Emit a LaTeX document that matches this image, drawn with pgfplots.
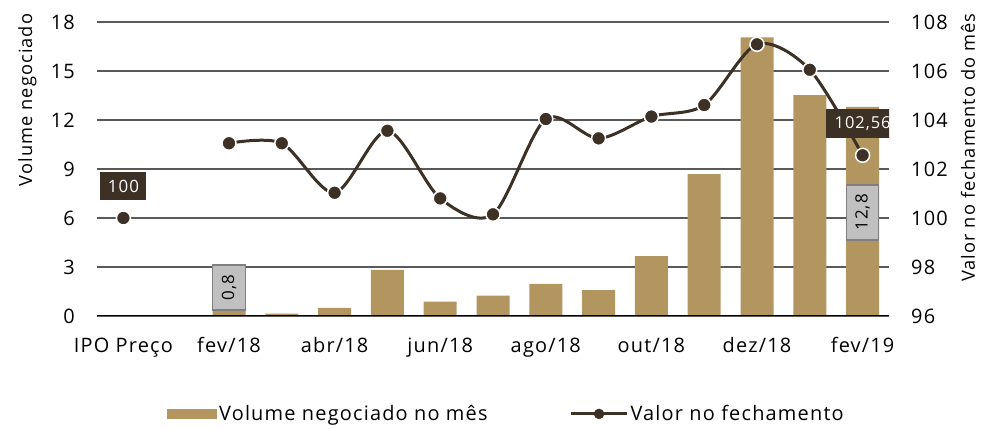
\documentclass[border=0pt]{standalone}
\usepackage{pgfplots}
\pgfplotsset{compat=1.18}
\usepackage{fontspec}
\setmainfont{Open Sans}[LetterSpace=6]
\definecolor{barcol}{HTML}{B39560}
\definecolor{linecol}{HTML}{3D3024}
\definecolor{gridcol}{HTML}{595959}
\definecolor{boxfill}{HTML}{C0C0C0}
\definecolor{boxdraw}{HTML}{7F7F7F}
\begin{document}
\begin{tikzpicture}
\path[use as bounding box] (0,0) rectangle (982bp,429bp);
\begin{axis}[
  at={(97bp,113bp)}, anchor=south west,
  scale only axis, width=792bp, height=294bp,
  xmin=-0.5, xmax=14.5, ymin=0, ymax=18,
  ytick={0,3,...,18},
  xtick={0,2,...,14},
  xticklabels={IPO Preço, fev/18, abr/18, jun/18, ago/18, out/18, dez/18, fev/19},
  axis line style={draw=none},
  ymajorgrids, major grid style={gridcol, line width=1.3bp},
  major tick length=0pt,
  tick label style={font=\fontsize{20}{24}\selectfont},
  /pgf/number format/assume math mode=true,
  yticklabel style={anchor=east, inner sep=0pt, xshift=-22bp},
  xticklabel style={anchor=base, inner sep=0pt, yshift=-36bp},
  ylabel={Volume negociado},
  ylabel style={font=\fontsize{18.3}{22}\selectfont, at={(axis description cs:-0.088,1.04)}, anchor=east},
  ybar, bar width=33bp,
  legend style={at={(0.517,-0.333)}, anchor=center, draw=none, fill=none,
    legend columns=2, font=\fontsize{20}{24}\selectfont,
    /tikz/every even column/.append style={column sep=80bp}},
  legend cell align=left,
]
\addplot[fill=barcol, draw=none,
  legend image code/.code={\fill[barcol] (0bp,-5bp) rectangle (50bp,5bp);}]
  coordinates {(2,0.8) (3,0.15) (4,0.5) (5,2.82) (6,0.88) (7,1.24) (8,1.96) (9,1.59) (10,3.67) (11,8.68) (12,17.06) (13,13.53) (14,12.8)};
\addlegendentry{Volume negociado no mês}
\addlegendimage{legend image code/.code={\draw[linecol, line width=3bp] (0bp,0bp) -- (56bp,0bp); \fill[linecol] (28bp,0bp) circle (5bp);}}
\addlegendentry{Valor no fechamento}
\draw[black, line width=1.5bp] (rel axis cs:0,0) -- (rel axis cs:1,0);
\node[fill=boxfill, draw=boxdraw, line width=1.5bp, rotate=90, minimum width=45bp, minimum height=33bp, inner sep=0pt, font=\fontsize{17}{20}\selectfont] at (axis cs:2,1.75) {0,8};
\node[fill=boxfill, draw=boxdraw, line width=1.5bp, rotate=90, minimum width=55bp, minimum height=32bp, inner sep=0pt, font=\fontsize{17}{20}\selectfont] at (axis cs:14,6.34) {12,8};
\end{axis}
\begin{axis}[
  at={(97bp,113bp)}, anchor=south west,
  scale only axis, width=792bp, height=294bp,
  xmin=-0.5, xmax=14.5, ymin=96, ymax=108,
  ytick={96,98,...,108},
  axis y line*=right, axis x line=none,
  axis line style={draw=none},
  major tick length=0pt,
  tick label style={font=\fontsize{20}{24}\selectfont},
  /pgf/number format/assume math mode=true,
  yticklabel style={anchor=west, inner sep=0pt, xshift=22bp},
  ylabel={Valor no fechamento do mês},
  ylabel style={font=\fontsize{18.3}{22}\selectfont, at={(axis description cs:1.0997,1.04)}, anchor=east, rotate=0},
]
\addplot[linecol, line width=3bp, smooth, tension=0.5, mark=*, mark size=7bp,
  mark options={fill=linecol, draw=white, line width=1.5bp}]
  coordinates {(2,103.05) (3,103.05) (4,101.03) (5,103.56) (6,100.80) (7,100.15) (8,104.04) (9,103.25) (10,104.14) (11,104.61) (12,107.09) (13,106.05) (14,102.56)};
\addplot[only marks, mark=*, mark size=7bp, mark options={fill=linecol, draw=white, line width=1.5bp}]
  coordinates {(0,100)};
\node[fill=linecol, text=white, minimum width=46bp, minimum height=28bp, inner sep=0pt, font=\fontsize{17}{20}\selectfont] at (axis cs:0,100) [yshift=32bp] {100};
\node[fill=linecol, text=white, minimum width=73bp, minimum height=29bp, inner sep=0pt, font=\fontsize{16.5}{20}\selectfont] at (axis cs:14,102.56) [yshift=31.5bp] {102,56};
\end{axis}
\end{tikzpicture}
\end{document}
